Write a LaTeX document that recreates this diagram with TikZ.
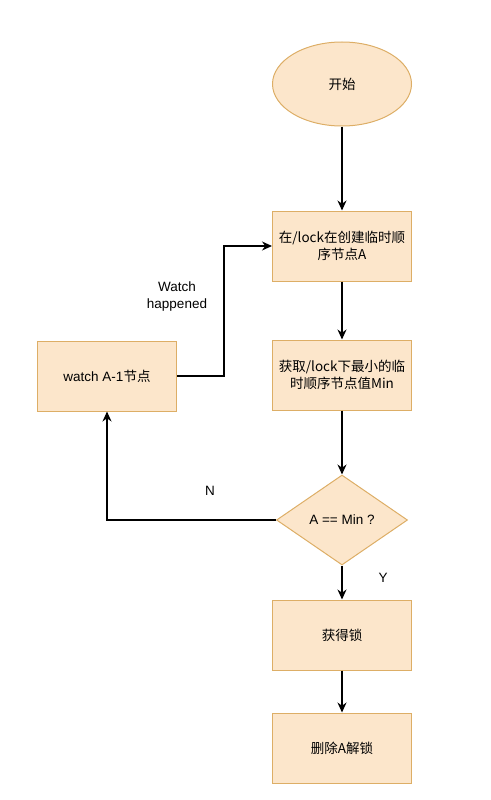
\documentclass[tikz,border=0pt]{standalone}
\usepackage{fontspec}
\setmainfont{Liberation Sans}
\newfontfamily\cjk{Noto Sans CJK SC}
\usepackage{tikz}
\usetikzlibrary{arrows.meta,shapes.geometric}
\definecolor{Peach}{HTML}{FCE6CB}
\definecolor{Tan}{HTML}{DDAE66}

\begin{document}
\begin{tikzpicture}[x=1pt, y=-1pt, font=\fontsize{13.5}{17}\selectfont, >={Stealth[length=10pt,width=9pt]}]
\tikzset{stepbox/.style={draw=Tan, fill=Peach, line width=1pt, align=center, minimum width=139pt, minimum height=70pt, inner sep=2pt}, startnode/.style={ellipse, draw=Tan, fill=Peach, line width=1pt, minimum width=139pt, minimum height=84pt}, check/.style={diamond, draw=Tan, fill=Peach, line width=1pt, aspect=1.45, minimum width=131pt, minimum height=90pt, inner sep=0pt}, flow/.style={->, line width=1.2pt, black}}
\useasboundingbox (0,0) rectangle (490,800);
\node[startnode] (start) at (342,84) {\cjk 开始};
\node[stepbox] (create) at (342,246) {\cjk 在/lock在创建临时顺\\\cjk 序节点A};
\node[stepbox] (getmin) at (342,375) {\cjk 获取/lock下最小的临\\\cjk 时顺序节点值Min};
\node[check] (ismin) at (342,520) {A == Min ?};
\node[stepbox] (acquire) at (342,635) {\cjk 获得锁};
\node[stepbox] (release) at (342,748) {\cjk 删除A解锁};
\node[stepbox] (watch) at (107,376) {watch A-1\cjk 节点};
\node (happened) at (177,297) [align=center] {Watch\\happened};
\node (no) at (210,491) {N};
\node (yes) at (383,578) {Y};
\coordinate (up) at (224,376); \coordinate (left) at (107,520);
\draw[flow] (start)--(create); \draw[flow] (create)--(getmin); \draw[flow] (getmin)--(ismin); \draw[flow] (ismin)--(acquire); \draw[flow] (acquire)--(release);
\draw[flow] (ismin.west)--(left)--(watch.south); \draw[flow] (watch.east)--(up)|-(create.west);
\end{tikzpicture}
\end{document}
